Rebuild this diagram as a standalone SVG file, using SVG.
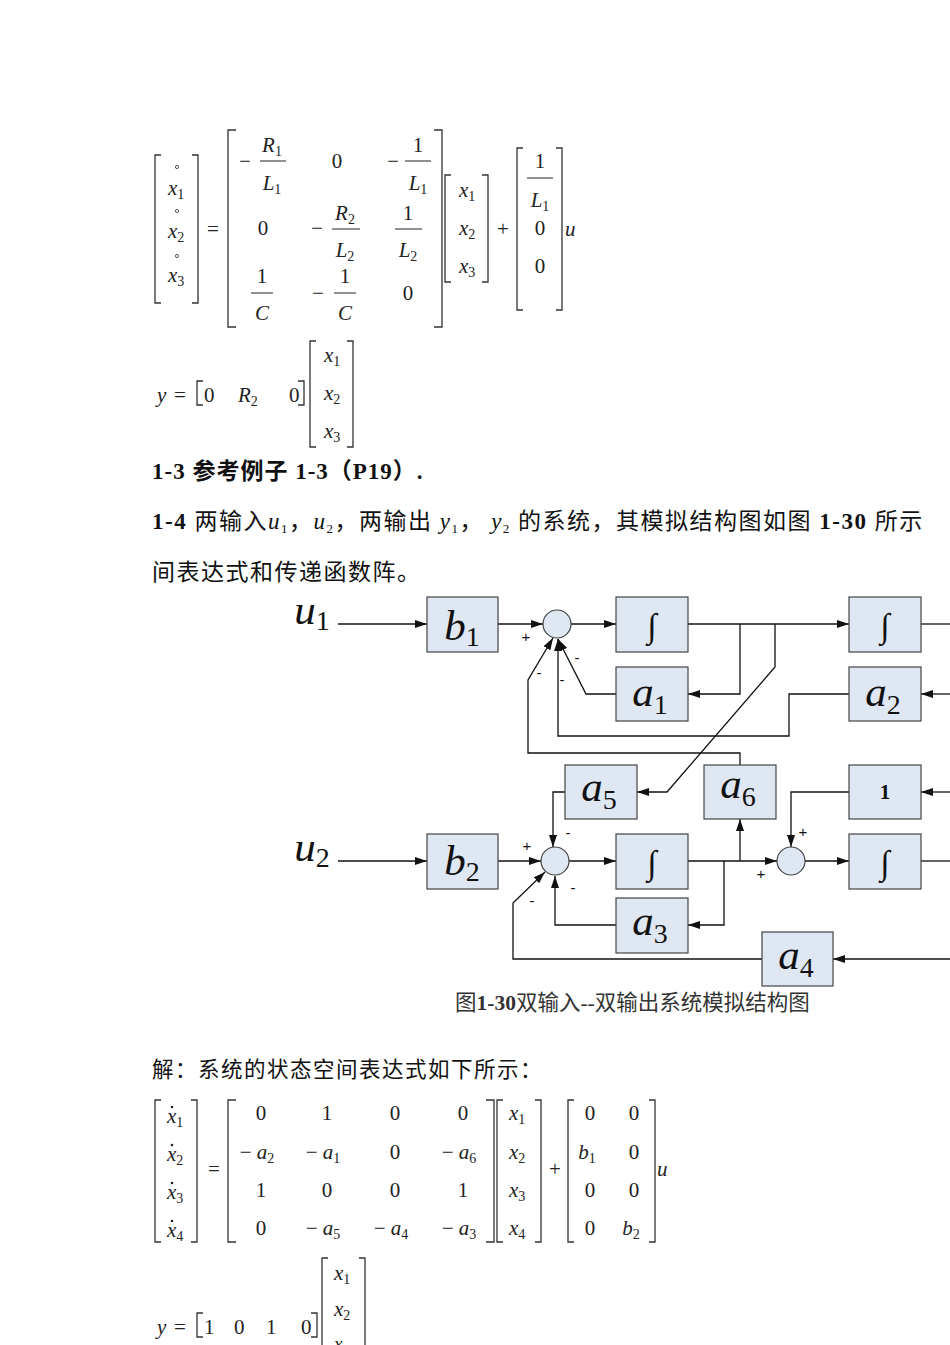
<svg xmlns="http://www.w3.org/2000/svg" width="950" height="1345" viewBox="0 0 950 1345">
<style>
.m{font-family:"Liberation Serif",serif;font-size:21px;fill:#222}
.i{font-style:italic}
.br{fill:none;stroke:#333;stroke-width:1.3}
.cn{font-family:"Liberation Serif","Noto Sans CJK SC",serif;font-size:23px;fill:#111}
.bd{font-weight:bold}
.blk{fill:#dfe7f3;stroke:#444;stroke-width:1.2}
.sum{fill:#dfe7f3;stroke:#444;stroke-width:1.2}
.bt{font-family:"Liberation Serif",serif;font-style:italic;font-size:43px;fill:#111;text-anchor:middle}
.up{font-family:"Liberation Serif",serif;font-style:normal;fill:#111;text-anchor:middle}
.sb{font-size:28px;font-style:normal}
.ln{fill:none;stroke:#111;stroke-width:1.3}
.sg{font-family:"Liberation Sans",sans-serif;font-size:15px;fill:#111;text-anchor:middle}
.fl{stroke:#222;stroke-width:1}
</style>
<defs>
<marker id="ar" viewBox="0 0 12 8" refX="12" refY="4" markerWidth="12" markerHeight="8" markerUnits="userSpaceOnUse" orient="auto"><path d="M0,0L12,4L0,8z" fill="#111"/></marker>
</defs>
<rect width="950" height="1345" fill="#fff"/>

<!-- top equation -->
<g id="eq1" class="m">
<path class="br" d="M161,155H155V303H161M192,155H198V303H192"/>
<text x="168" y="195" class="i">x<tspan font-size="14" dy="4" font-style="normal">1</tspan></text>
<text x="168" y="238" class="i">x<tspan font-size="14" dy="4" font-style="normal">2</tspan></text>
<text x="168" y="282" class="i">x<tspan font-size="14" dy="4" font-style="normal">3</tspan></text>
<circle cx="177" cy="167" r="1.6" fill="none" stroke="#555"/><circle cx="177" cy="211" r="1.6" fill="none" stroke="#555"/><circle cx="177" cy="256" r="1.6" fill="none" stroke="#555"/>
<text x="213" y="236" text-anchor="middle">=</text>
<path class="br" d="M236,130H228V327H236M434,130H442V327H434"/>
<text x="245" y="168" text-anchor="middle">−</text>
<text x="272" y="152" text-anchor="middle" class="i">R<tspan font-size="14" dy="4" font-style="normal">1</tspan></text>
<line class="fl" x1="260" y1="161" x2="286" y2="161"/>
<text x="272" y="190" text-anchor="middle" class="i">L<tspan font-size="14" dy="4" font-style="normal">1</tspan></text>
<text x="337" y="168" text-anchor="middle">0</text>
<text x="393" y="168" text-anchor="middle">−</text>
<text x="418" y="152" text-anchor="middle">1</text>
<line class="fl" x1="405" y1="161" x2="431" y2="161"/>
<text x="418" y="190" text-anchor="middle" class="i">L<tspan font-size="14" dy="4" font-style="normal">1</tspan></text>
<text x="263" y="235" text-anchor="middle">0</text>
<text x="317" y="235" text-anchor="middle">−</text>
<text x="345" y="220" text-anchor="middle" class="i">R<tspan font-size="14" dy="4" font-style="normal">2</tspan></text>
<line class="fl" x1="332" y1="229" x2="360" y2="229"/>
<text x="345" y="257" text-anchor="middle" class="i">L<tspan font-size="14" dy="4" font-style="normal">2</tspan></text>
<text x="408" y="220" text-anchor="middle">1</text>
<line class="fl" x1="395" y1="229" x2="422" y2="229"/>
<text x="408" y="257" text-anchor="middle" class="i">L<tspan font-size="14" dy="4" font-style="normal">2</tspan></text>
<text x="262" y="283" text-anchor="middle">1</text>
<line class="fl" x1="251" y1="293" x2="273" y2="293"/>
<text x="262" y="320" text-anchor="middle" class="i">C</text>
<text x="318" y="300" text-anchor="middle">−</text>
<text x="345" y="283" text-anchor="middle">1</text>
<line class="fl" x1="334" y1="293" x2="356" y2="293"/>
<text x="345" y="320" text-anchor="middle" class="i">C</text>
<text x="408" y="300" text-anchor="middle">0</text>
<path class="br" d="M451,175H445V282H451M482,175H488V282H482"/>
<text x="459" y="197" class="i">x<tspan font-size="14" dy="4" font-style="normal">1</tspan></text>
<text x="459" y="235" class="i">x<tspan font-size="14" dy="4" font-style="normal">2</tspan></text>
<text x="459" y="273" class="i">x<tspan font-size="14" dy="4" font-style="normal">3</tspan></text>
<text x="503" y="236" text-anchor="middle">+</text>
<path class="br" d="M523,148H517V310H523M556,148H562V310H556"/>
<text x="540" y="168" text-anchor="middle">1</text>
<line class="fl" x1="527" y1="178" x2="553" y2="178"/>
<text x="540" y="207" text-anchor="middle" class="i">L<tspan font-size="14" dy="4" font-style="normal">1</tspan></text>
<text x="540" y="235" text-anchor="middle">0</text>
<text x="540" y="273" text-anchor="middle">0</text>
<text x="565" y="236" class="i">u</text>
<text x="157" y="402" class="i">y</text>
<text x="174" y="402">=</text>
<path class="br" d="M203,381H197V405H203M298,381H304V405H298"/>
<text x="204" y="402">0</text>
<text x="238" y="402" class="i">R<tspan font-size="14" dy="4" font-style="normal">2</tspan></text>
<text x="289" y="402">0</text>
<path class="br" d="M316,341H310V447H316M347,341H353V447H347"/>
<text x="324" y="362" class="i">x<tspan font-size="14" dy="4" font-style="normal">1</tspan></text>
<text x="324" y="400" class="i">x<tspan font-size="14" dy="4" font-style="normal">2</tspan></text>
<text x="324" y="438" class="i">x<tspan font-size="14" dy="4" font-style="normal">3</tspan></text>
</g>

<g id="texts" class="cn">
<text x="152" y="479" class="bd" letter-spacing="1">1-3 参考例子 1-3（P19）.</text>
<text x="152" y="529" letter-spacing="1.5"><tspan class="bd">1-4</tspan> 两输入<tspan class="i">u</tspan><tspan font-size="13" dy="4">1</tspan><tspan dy="-4">，</tspan><tspan class="i">u</tspan><tspan font-size="13" dy="4">2</tspan><tspan dy="-4">，两输出 </tspan><tspan class="i">y</tspan><tspan font-size="13" dy="4">1</tspan><tspan dy="-4">， </tspan><tspan class="i">y</tspan><tspan font-size="13" dy="4">2</tspan><tspan dy="-4"> 的系统，其模拟结构图如图 </tspan><tspan class="bd">1-30</tspan> 所示</text>
<text x="152" y="580" letter-spacing="1.5">间表达式和传递函数阵。</text>
<text x="455" y="1010" font-size="21.5" fill="#333">图<tspan class="bd">1-30</tspan>双输入--双输出系统模拟结构图</text>
<text x="152" y="1077" font-size="21.5" letter-spacing="1.5">解：系统的状态空间表达式如下所示：</text>
</g>

<!-- connectors -->
<g id="connectors">
<path class="ln" d="M338,624H427" marker-end="url(#ar)"/>
<path class="ln" d="M498,624H543" marker-end="url(#ar)"/>
<path class="ln" d="M571,624H616" marker-end="url(#ar)"/>
<path class="ln" d="M688,624H849" marker-end="url(#ar)"/>
<path class="ln" d="M921,624H950"/>
<path class="ln" d="M740,624V694H688" marker-end="url(#ar)"/>
<path class="ln" d="M775,624V667L667,792H637" marker-end="url(#ar)"/>
<path class="ln" d="M616,694H586L558,639" marker-end="url(#ar)"/>
<path class="ln" d="M950,694H921" marker-end="url(#ar)"/>
<path class="ln" d="M849,694H789V736H558V639" marker-end="url(#ar)"/>
<path class="ln" d="M740,765V753H528V680L553,638" marker-end="url(#ar)"/>
<path class="ln" d="M950,792H921" marker-end="url(#ar)"/>
<path class="ln" d="M565,792H553V847" marker-end="url(#ar)"/>
<path class="ln" d="M849,792H791V847" marker-end="url(#ar)"/>
<path class="ln" d="M338,861H427" marker-end="url(#ar)"/>
<path class="ln" d="M498,861H541" marker-end="url(#ar)"/>
<path class="ln" d="M569,861H616" marker-end="url(#ar)"/>
<path class="ln" d="M688,861H777" marker-end="url(#ar)"/>
<path class="ln" d="M740,861V819" marker-end="url(#ar)"/>
<path class="ln" d="M724,861V925H688" marker-end="url(#ar)"/>
<path class="ln" d="M616,925H555V876" marker-end="url(#ar)"/>
<path class="ln" d="M805,861H849" marker-end="url(#ar)"/>
<path class="ln" d="M921,861H950"/>
<path class="ln" d="M950,959H833" marker-end="url(#ar)"/>
<path class="ln" d="M762,959H513V903L545,872" marker-end="url(#ar)"/>
<g class="sg">
<text x="526" y="642">+</text><text x="577" y="663">-</text><text x="539" y="678">-</text><text x="562" y="685">-</text>
<text x="568" y="838">-</text><text x="527" y="851">+</text><text x="573" y="893">-</text><text x="532" y="906">-</text>
<text x="803" y="837">+</text><text x="761" y="879">+</text>
</g>
</g>

<!-- nodes -->
<g id="u1"><text x="312" y="624" class="bt" font-size="36">u<tspan class="sb" font-size="24" dy="6">1</tspan></text></g>
<g id="u2"><text x="312" y="861" class="bt" font-size="36">u<tspan class="sb" font-size="24" dy="6">2</tspan></text></g>
<g id="b1"><rect class="blk" x="427" y="597" width="71" height="55"/><text x="462" y="640" class="bt">b<tspan class="sb" dy="6">1</tspan></text></g>
<g id="sum1"><circle class="sum" cx="557" cy="624" r="14"/></g>
<g id="int1"><rect class="blk" x="616" y="597" width="72" height="55"/><text x="652" y="637" class="up" font-size="34">∫</text></g>
<g id="int2"><rect class="blk" x="849" y="597" width="72" height="55"/><text x="885" y="637" class="up" font-size="34">∫</text></g>
<g id="a1"><rect class="blk" x="616" y="667" width="72" height="54"/><text x="650" y="706" class="bt">a<tspan class="sb" dy="8">1</tspan></text></g>
<g id="a2"><rect class="blk" x="849" y="667" width="72" height="54"/><text x="883" y="706" class="bt">a<tspan class="sb" dy="8">2</tspan></text></g>
<g id="a5"><rect class="blk" x="565" y="765" width="72" height="54"/><text x="599" y="801" class="bt">a<tspan class="sb" dy="8">5</tspan></text></g>
<g id="a6"><rect class="blk" x="704" y="765" width="72" height="54"/><text x="738" y="798" class="bt">a<tspan class="sb" dy="8">6</tspan></text></g>
<g id="one"><rect class="blk" x="849" y="765" width="72" height="54"/><text x="885" y="799" class="up" font-size="21" font-weight="bold">1</text></g>
<g id="b2"><rect class="blk" x="427" y="834" width="71" height="55"/><text x="462" y="875" class="bt">b<tspan class="sb" dy="6">2</tspan></text></g>
<g id="sum2"><circle class="sum" cx="555" cy="861" r="14"/></g>
<g id="int3"><rect class="blk" x="616" y="834" width="72" height="55"/><text x="652" y="874" class="up" font-size="34">∫</text></g>
<g id="sum3"><circle class="sum" cx="791" cy="861" r="14"/></g>
<g id="int4"><rect class="blk" x="849" y="834" width="72" height="55"/><text x="885" y="874" class="up" font-size="34">∫</text></g>
<g id="a3"><rect class="blk" x="616" y="898" width="72" height="55"/><text x="650" y="935" class="bt">a<tspan class="sb" dy="8">3</tspan></text></g>
<g id="a4"><rect class="blk" x="762" y="932" width="71" height="54"/><text x="796" y="969" class="bt">a<tspan class="sb" dy="8">4</tspan></text></g>

<!-- bottom equation -->
<g id="eq2" class="m">
<path class="br" d="M161,1100H155V1242H161M191,1100H197V1242H191"/>
<text x="167" y="1123" class="i">x<tspan font-size="14" dy="4" font-style="normal">1</tspan></text>
<text x="167" y="1161" class="i">x<tspan font-size="14" dy="4" font-style="normal">2</tspan></text>
<text x="167" y="1199" class="i">x<tspan font-size="14" dy="4" font-style="normal">3</tspan></text>
<text x="167" y="1237" class="i">x<tspan font-size="14" dy="4" font-style="normal">4</tspan></text>
<g fill="#222"><circle cx="172" cy="1107" r="1.3"/><circle cx="172" cy="1145" r="1.3"/><circle cx="172" cy="1183" r="1.3"/><circle cx="172" cy="1221" r="1.3"/></g>
<text x="214" y="1176" text-anchor="middle">=</text>
<path class="br" d="M236,1100H228V1242H236M486,1100H494V1242H486"/>
<g text-anchor="middle">
<text x="261" y="1120">0</text><text x="327" y="1120">1</text><text x="395" y="1120">0</text><text x="463" y="1120">0</text>
<text x="257" y="1159">− <tspan class="i">a</tspan><tspan font-size="14" dy="4">2</tspan></text>
<text x="323" y="1159">− <tspan class="i">a</tspan><tspan font-size="14" dy="4">1</tspan></text>
<text x="395" y="1159">0</text>
<text x="459" y="1159">− <tspan class="i">a</tspan><tspan font-size="14" dy="4">6</tspan></text>
<text x="261" y="1197">1</text><text x="327" y="1197">0</text><text x="395" y="1197">0</text><text x="463" y="1197">1</text>
<text x="261" y="1235">0</text>
<text x="323" y="1235">− <tspan class="i">a</tspan><tspan font-size="14" dy="4">5</tspan></text>
<text x="391" y="1235">− <tspan class="i">a</tspan><tspan font-size="14" dy="4">4</tspan></text>
<text x="459" y="1235">− <tspan class="i">a</tspan><tspan font-size="14" dy="4">3</tspan></text>
</g>
<path class="br" d="M503,1100H497V1242H503M535,1100H541V1242H535"/>
<text x="509" y="1120" class="i">x<tspan font-size="14" dy="4" font-style="normal">1</tspan></text>
<text x="509" y="1159" class="i">x<tspan font-size="14" dy="4" font-style="normal">2</tspan></text>
<text x="509" y="1197" class="i">x<tspan font-size="14" dy="4" font-style="normal">3</tspan></text>
<text x="509" y="1235" class="i">x<tspan font-size="14" dy="4" font-style="normal">4</tspan></text>
<text x="555" y="1176" text-anchor="middle">+</text>
<path class="br" d="M574,1100H568V1242H574M649,1100H655V1242H649"/>
<g text-anchor="middle">
<text x="590" y="1120">0</text><text x="634" y="1120">0</text>
<text x="587" y="1159" class="i">b<tspan font-size="14" dy="4" font-style="normal">1</tspan></text><text x="634" y="1159">0</text>
<text x="590" y="1197">0</text><text x="634" y="1197">0</text>
<text x="590" y="1235">0</text><text x="631" y="1235" class="i">b<tspan font-size="14" dy="4" font-style="normal">2</tspan></text>
</g>
<text x="657" y="1176" class="i">u</text>
<text x="157" y="1334" class="i">y</text>
<text x="174" y="1334">=</text>
<path class="br" d="M203,1313H197V1337H203M311,1313H317V1337H311"/>
<text x="204" y="1334">1</text><text x="234" y="1334">0</text><text x="266" y="1334">1</text><text x="301" y="1334">0</text>
<path class="br" d="M328,1258H322V1350M359,1258H365V1350"/>
<text x="334" y="1280" class="i">x<tspan font-size="14" dy="4" font-style="normal">1</tspan></text>
<text x="334" y="1316" class="i">x<tspan font-size="14" dy="4" font-style="normal">2</tspan></text>
<text x="334" y="1350" class="i" font-size="19">x<tspan font-size="13" dy="3" font-style="normal">3</tspan></text>
</g>
</svg>
